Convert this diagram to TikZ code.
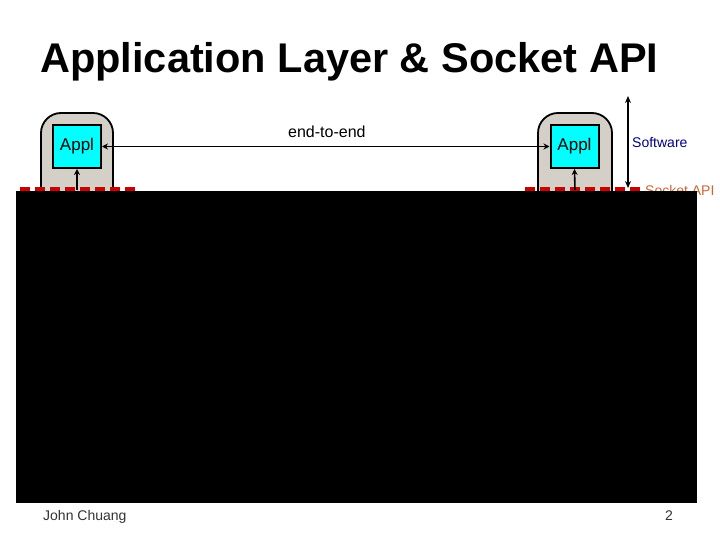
\documentclass[tikz,border=0pt]{standalone}
\usepackage{fontspec}
\setmainfont{Liberation Sans}
\usetikzlibrary{arrows.meta}
\begin{document}
\begin{tikzpicture}[x=1pt,y=-1pt,
  tower/.style={draw=black,line width=1.8pt,fill=towergrey,rounded corners=20pt},
  applbox/.style={draw=black,line width=2pt,fill=applcyan,minimum width=48pt,minimum height=43pt,inner sep=0pt,font=\fontsize{17}{17}\selectfont},
  conn/.style={line width=1.6pt,-{Stealth[length=6pt,width=6pt]}},
  apiline/.style={draw=apired,line width=4.5pt,dash pattern=on 10pt off 5pt},
  lbl/.style={inner sep=0pt,anchor=base west}]
\definecolor{towergrey}{HTML}{D4D0C8}
\definecolor{applcyan}{HTML}{00FFFF}
\definecolor{apired}{HTML}{CC0000}
\definecolor{sockcol}{HTML}{CC6633}
\definecolor{swcol}{HTML}{000080}
\useasboundingbox (0,0) rectangle (720,540);
\fill[white] (0,0) rectangle (720,540);
% title
\node[lbl] (title) at (40,73) {\fontsize{41.5}{41.5}\selectfont\bfseries Application Layer \& Socket API};
% towers
\draw[tower] (41,200) -- (41,113) -- (113,113) -- (113,200);
\draw[tower] (538,200) -- (538,113) -- (612,113) -- (612,200);
% appl boxes
\node[applbox] (a1) at (77,146.5) {Appl};
\node[applbox] (a2) at (574.5,146.5) {Appl};
% api lines
\coordinate (b1) at (77,190);
\coordinate (b2) at (575,190);
\draw[apiline] (20,189) -- (135,189);
\draw[apiline] (525,189) -- (640,189);
\draw[conn] (b1) -- (a1.south);
\draw[conn] (b2) -- (a2.south);
\draw[line width=1.6pt,{Stealth[length=6pt,width=6pt]}-{Stealth[length=6pt,width=6pt]}] (a1.east) -- (a2.west);
\node[lbl] (e2e) at (288,138) {\fontsize{16}{16}\selectfont end-to-end};
% software range
\coordinate (st) at (628,96);
\coordinate (sb) at (628,188);
\draw[line width=1.3pt,{Stealth[length=7pt,width=6pt]}-{Stealth[length=7pt,width=6pt]}] (st) -- (sb);
\node[lbl,text=swcol] (sw) at (632,148) {\fontsize{14}{14}\selectfont Software};
\node[lbl,text=sockcol] (sock) at (645,196) {\fontsize{14}{14}\selectfont Socket API};
% black region
\fill[black] (16,191) rectangle (697,503);
% footer
\node[lbl,text=black!80] (auth) at (43,520) {\fontsize{14}{14}\selectfont John Chuang};
\node[lbl,text=black!80] (pg) at (665,520) {\fontsize{14}{14}\selectfont 2};
\end{tikzpicture}
\end{document}
